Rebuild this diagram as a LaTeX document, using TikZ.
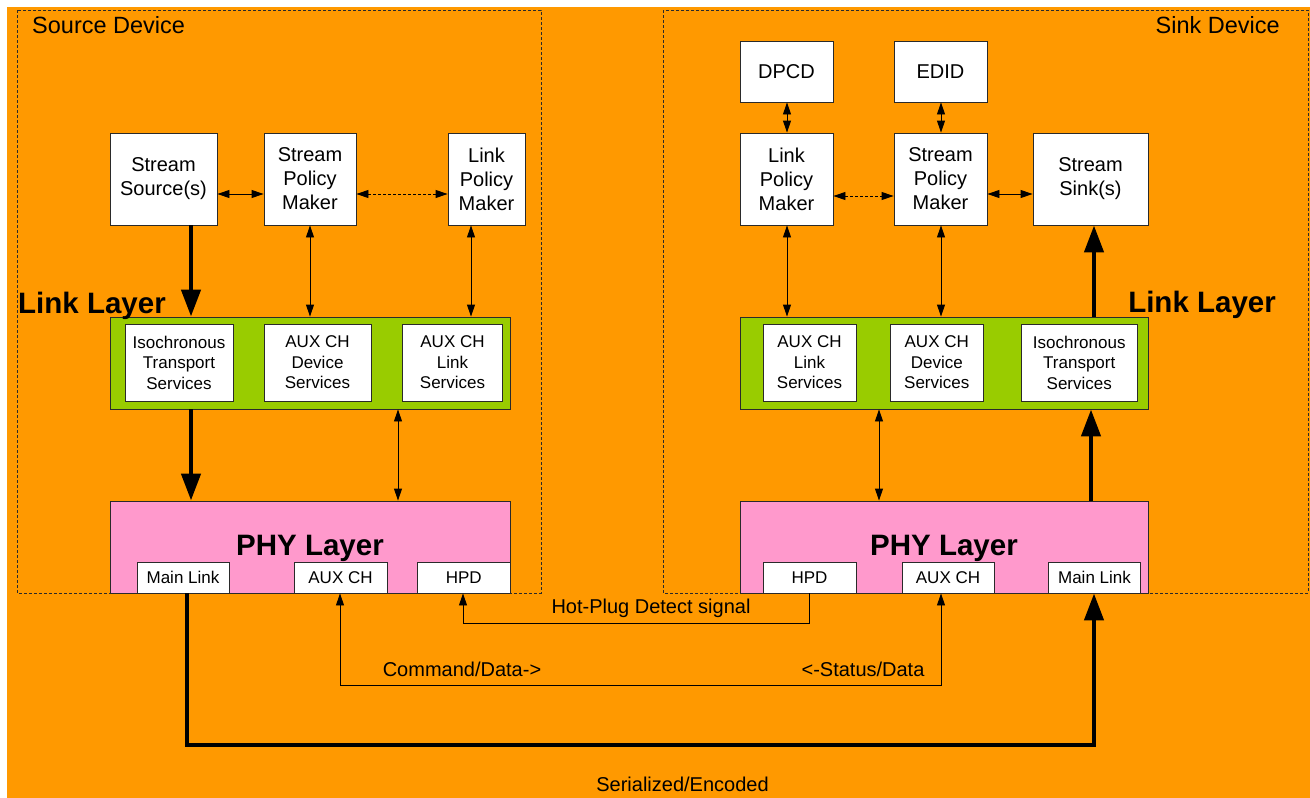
\documentclass[tikz,border=0pt]{standalone}
\usepackage{fontspec}
\setmainfont{Liberation Sans}
\usetikzlibrary{arrows.meta}
\definecolor{bgorange}{HTML}{FF9900}
\definecolor{lgreen}{HTML}{99CC00}
\definecolor{lpink}{HTML}{FF99CC}
\definecolor{edgecol}{HTML}{2A2A2A}
\tikzset{
  box/.style={draw=edgecol, fill=white, line width=0.9pt, inner sep=0pt, align=center, font=\fontsize{20}{24}\selectfont},
  sbox/.style={box, font=\fontsize{17}{20.5}\selectfont},
  layerbox/.style={draw=edgecol, line width=0.9pt, inner sep=0pt},
  conn/.style={draw=black, line width=0.9pt, {Triangle[length=12pt,width=8pt]}-{Triangle[length=12pt,width=8pt]}},
  oneway/.style={draw=black, line width=0.9pt, -{Triangle[length=12pt,width=8pt]}},
  dashline/.style={dash pattern=on 3pt off 2pt},
  bigarrow/.style={draw=black, line width=4.5pt, -{Triangle[length=27pt,width=19pt]}},
  device/.style={draw=edgecol, line width=0.8pt, dash pattern=on 3pt off 2pt},
  lbl/.style={font=\fontsize{20}{24}\selectfont, inner sep=0pt},
  devlbl/.style={font=\fontsize{23.5}{28}\selectfont, inner sep=0pt},
  biglbl/.style={font=\bfseries\fontsize{29.5}{34}\selectfont, inner sep=0pt},
}
\begin{document}
\begin{tikzpicture}[x=1pt,y=-1pt]
\useasboundingbox (0,0) rectangle (1310,798);
\fill[white] (0,0) rectangle (1310,798);
\fill[bgorange] (7,7) rectangle (1310,798);

% device frames
\draw[device] (17,10) rectangle (541,593);
\draw[device] (663,10) rectangle (1308,593);
\node[devlbl, anchor=base west] (srcdev) at (32,33) {Source Device};
\node[devlbl, anchor=base east] (snkdev) at (1280,33) {Sink Device};

% helper coordinates
\coordinate (ya) at (0,194);
\coordinate (yb) at (0,196);
\coordinate (y623) at (0,623);
\coordinate (y685) at (0,685);
\coordinate (y745) at (0,745);
\coordinate (x187) at (187,0);
\coordinate (x191) at (191,0);
\coordinate (x340) at (340,0);
\coordinate (x398) at (398,0);
\coordinate (x463) at (463,0);
\coordinate (x471) at (471,0);
\coordinate (x787) at (787,0);
\coordinate (x809) at (809,0);
\coordinate (x879) at (879,0);
\coordinate (x941) at (941,0);
\coordinate (x1091) at (1091,0);
\coordinate (x1094) at (1094,0);

% ---------------- Source ----------------
\node[box, minimum width=107pt, minimum height=92pt] (ss) at (163.5,179) {Stream\\Source(s)};
\node[box, minimum width=92pt, minimum height=92pt] (sspm) at (310,179) {Stream\\Policy\\Maker};
\node[box, minimum width=77pt, minimum height=92pt] (slpm) at (486.5,179) {Link\\Policy\\Maker};

\node[layerbox, fill=lgreen, minimum width=400pt, minimum height=92pt] (slink) at (310,363) {};
\node[sbox, minimum width=108pt, minimum height=77pt] (siso) at (179,362.5) {Isochronous\\Transport\\Services};
\node[sbox, minimum width=107pt, minimum height=77pt] (sauxd) at (317.5,362.5) {AUX CH\\Device\\Services};
\node[sbox, minimum width=100pt, minimum height=77pt] (sauxl) at (452.5,362.5) {AUX CH\\Link\\Services};
\node[biglbl, anchor=base west] (slinklbl) at (18,313) {Link Layer};

\node[layerbox, fill=lpink, minimum width=400pt, minimum height=92pt] (sphy) at (310,547) {};
\node[biglbl, anchor=base] (sphylbl) at (310,555) {PHY Layer};
\node[sbox, minimum width=92pt, minimum height=31pt] (sml) at (183,577.5) {Main Link};
\node[sbox, minimum width=93pt, minimum height=31pt] (saux) at (340.5,577.5) {AUX CH};
\node[sbox, minimum width=92.5pt, minimum height=31pt] (shpd) at (463.75,577.5) {HPD};

\draw[conn] (ss.east |- ya) -- (sspm.west |- ya);
\draw[conn, dashline] (sspm.east |- ya) -- (slpm.west |- ya);
\draw[conn] (sspm.south) -- (sspm.south |- slink.north);
\draw[conn] (slpm.south -| x471) -- (slink.north -| x471);
\draw[bigarrow] (ss.south -| x191) -- (slink.north -| x191);
\draw[bigarrow] (slink.south -| x191) -- (sphy.north -| x191);
\draw[conn] (slink.south -| x398) -- (sphy.north -| x398);

% ---------------- Sink ----------------
\node[box, minimum width=93pt, minimum height=61pt] (dpcd) at (786.5,71.5) {DPCD};
\node[box, minimum width=93pt, minimum height=61pt] (edid) at (940.5,71.5) {EDID};
\node[box, minimum width=93pt, minimum height=92pt] (klpm) at (786.5,179) {Link\\Policy\\Maker};
\node[box, minimum width=93pt, minimum height=92pt] (kspm) at (940.5,179) {Stream\\Policy\\Maker};
\node[box, minimum width=115pt, minimum height=92pt] (kss) at (1090.5,179) {Stream\\Sink(s)};

\node[layerbox, fill=lgreen, minimum width=408pt, minimum height=92pt] (klink) at (944,363) {};
\node[sbox, minimum width=93pt, minimum height=77pt] (kauxl) at (809.5,362.5) {AUX CH\\Link\\Services};
\node[sbox, minimum width=92.5pt, minimum height=77pt] (kauxd) at (936.75,362.5) {AUX CH\\Device\\Services};
\node[sbox, minimum width=115.5pt, minimum height=77pt] (kiso) at (1079.25,362.5) {Isochronous\\Transport\\Services};
\node[biglbl, anchor=base east] (klinklbl) at (1276,312) {Link Layer};

\node[layerbox, fill=lpink, minimum width=408pt, minimum height=92pt] (kphy) at (944,547) {};
\node[biglbl, anchor=base] (kphylbl) at (944,555) {PHY Layer};
\node[sbox, minimum width=93pt, minimum height=31pt] (khpd) at (809.5,577.5) {HPD};
\node[sbox, minimum width=92pt, minimum height=31pt] (kaux) at (948,577.5) {AUX CH};
\node[sbox, minimum width=92pt, minimum height=31pt] (kml) at (1094.5,577.5) {Main Link};

\draw[conn] (dpcd.south -| x787) -- (klpm.north -| x787);
\draw[conn] (edid.south -| x941) -- (kspm.north -| x941);
\draw[conn, dashline] (klpm.east |- yb) -- (kspm.west |- yb);
\draw[conn] (kspm.east |- ya) -- (kss.west |- ya);
\draw[conn] (klpm.south -| x787) -- (klink.north -| x787);
\draw[conn] (kspm.south -| x941) -- (klink.north -| x941);
\draw[bigarrow] (klink.north -| x1094) -- (kss.south -| x1094);
\draw[bigarrow] (kphy.north -| x1091) -- (klink.south -| x1091);
\draw[conn] (klink.south -| x879) -- (kphy.north -| x879);

% ---------------- Between devices ----------------
\draw[bigarrow] (sml.south -| x187) -- (x187 |- y745) -- (x1094 |- y745) -- (kml.south -| x1094);
\draw[conn] (saux.south -| x340) -- (x340 |- y685) -- (x941 |- y685) -- (kaux.south -| x941);
\draw[oneway] (khpd.south -| x809) -- (x809 |- y623) -- (x463 |- y623) -- (shpd.south -| x463);

\node[lbl] (hpdlbl) at (651,608) {Hot-Plug Detect signal};
\node[lbl] (cmdlbl) at (462,669) {Command/Data->};
\node[lbl] (stslbl) at (863,669) {<-Status/Data};
\node[lbl] (serlbl) at (682.5,784) {Serialized/Encoded};
\end{tikzpicture}
\end{document}
